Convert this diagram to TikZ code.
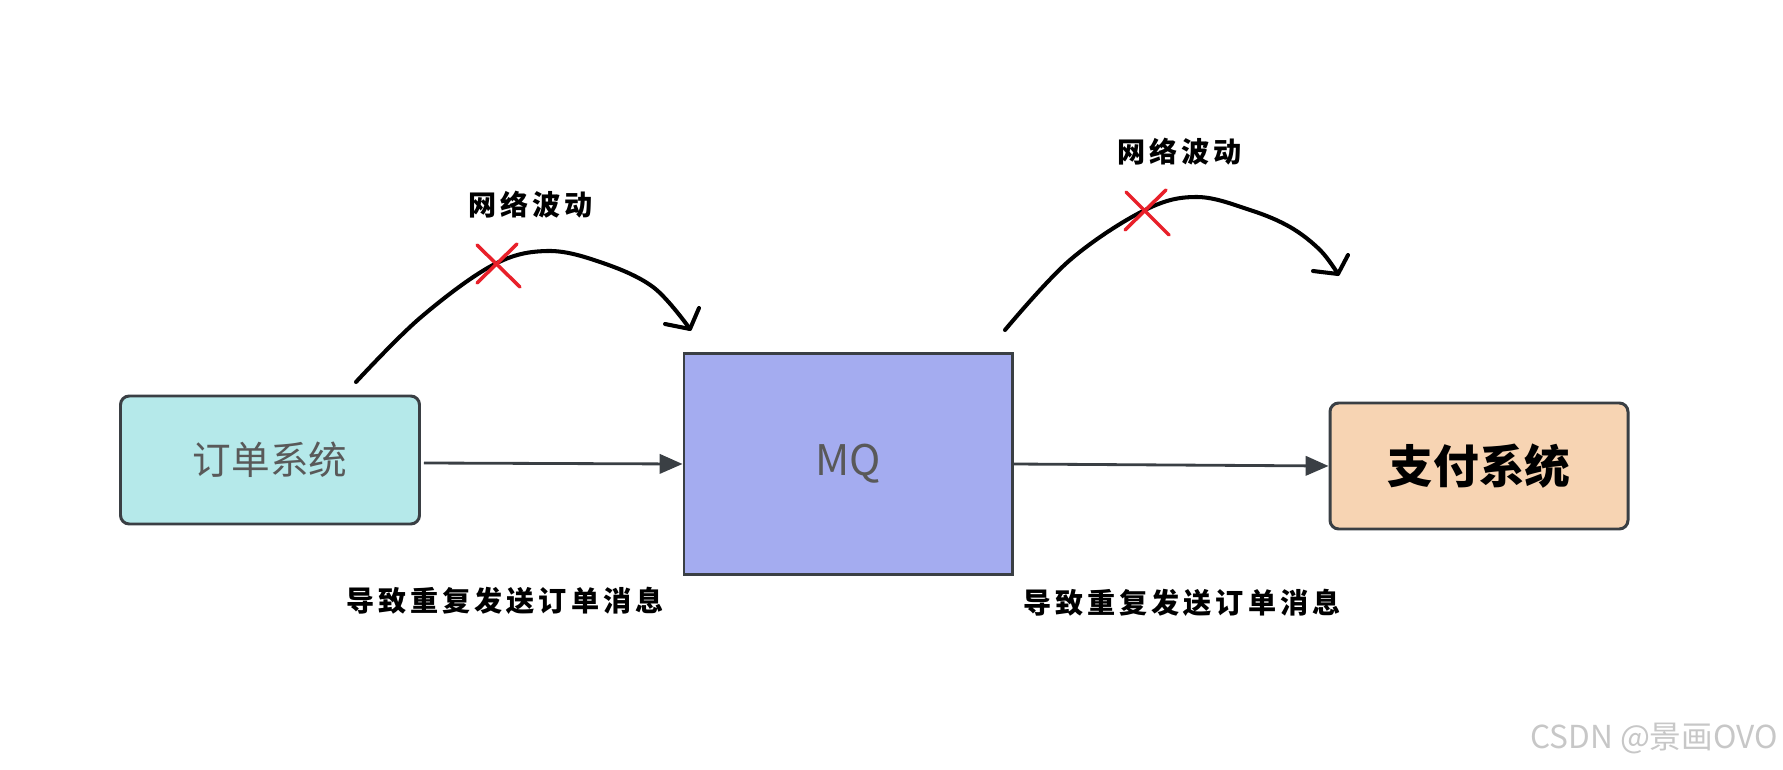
\documentclass[tikz,border=0pt]{standalone}
\usepackage{fontspec}
\newfontfamily\cjk{Noto Sans CJK SC}
\newfontfamily\cjklab[LetterSpace=14]{Noto Sans CJK SC}
\usetikzlibrary{arrows.meta}
\definecolor{boxline}{HTML}{3A3F44}
\definecolor{ordfill}{HTML}{B5E9EA}
\definecolor{mqfill}{HTML}{A4ACF0}
\definecolor{payfill}{HTML}{F7D4B3}
\definecolor{crossred}{HTML}{E8202A}
\tikzset{
  sysbox/.style={draw=boxline, line width=1.7pt, rounded corners=5pt, inner sep=0pt},
  flow/.style={draw=boxline, line width=1.6pt, -{Triangle[length=13pt, width=11pt]}},
  hand/.style={black, line width=2.3pt, line cap=round, line join=round},
  cross/.style={crossred, line width=2pt, line cap=round},
  lab/.style={font=\cjklab\bfseries\fontsize{16}{18}\selectfont, inner sep=0pt}
}
\begin{document}
\begin{tikzpicture}[x=0.02cm, y=-0.02cm]
    \useasboundingbox (0,0) rectangle (1783,770);
    % the three systems
    \node[sysbox, fill=ordfill, minimum width=299*0.02cm, minimum height=128*0.02cm,
          text=black!65, font=\cjk\fontsize{22}{24}\selectfont] (order) at (270,460) {订单系统};
    \node[sysbox, fill=mqfill, rounded corners=0pt, minimum width=328*0.02cm, minimum height=221*0.02cm,
          text=black!65, font=\cjk\fontsize{24}{26}\selectfont] (mq) at (848,464) {MQ};
    \node[sysbox, fill=payfill, minimum width=298*0.02cm, minimum height=126*0.02cm,
          text=black, font=\cjk\bfseries\fontsize{26}{28}\selectfont] (pay) at (1479,466) {\raisebox{-3pt}{支付系统}};
    \draw[flow] (order.east) ++(3,3) -- (mq.west);
    \draw[flow] (mq.east) -- (pay.west);
    % hand drawn retries
    \coordinate (s1) at (356,382);
    \coordinate (e1) at (690,329);
    \draw[hand] plot[smooth, tension=0.6] coordinates
        {(s1) (420,318) (493,265) (547,251) (600,262) (653,287) (e1)};
    \draw[hand] (665,324) -- (e1) -- (699,308);
    \coordinate (s2) at (1005,330);
    \coordinate (e2) at (1338,274);
    \draw[hand] plot[smooth, tension=0.6] coordinates
        {(s2) (1070,260) (1145,210) (1197,197) (1250,210) (1290,227) (1320,250) (e2)};
    \draw[hand] (1313,271) -- (e2) -- (1348,255);
    \coordinate (x1) at (498,265);
    \coordinate (x2) at (1147,212);
    \draw[cross] (x1) ++(-21,-20) -- ++(43,42);
    \draw[cross] (x1) ++(19,-21) -- ++(-40,39);
    \draw[cross] (x2) ++(-21,-20) -- ++(43,43);
    \draw[cross] (x2) ++(19,-22) -- ++(-41,40);
    \node[lab] (w1) at (531,205) {网络波动};
    \node[lab] (w2) at (1180,152) {网络波动};
    \node[lab] (d1) at (505,601) {导致重复发送订单消息};
    \node[lab] (d2) at (1182,603) {导致重复发送订单消息};
    \node[text=black!22, font=\cjk\fontsize{18}{20}\selectfont, anchor=east, inner sep=0pt] (wm) at (1778,739) {CSDN @景画OVO};
\end{tikzpicture}
\end{document}
